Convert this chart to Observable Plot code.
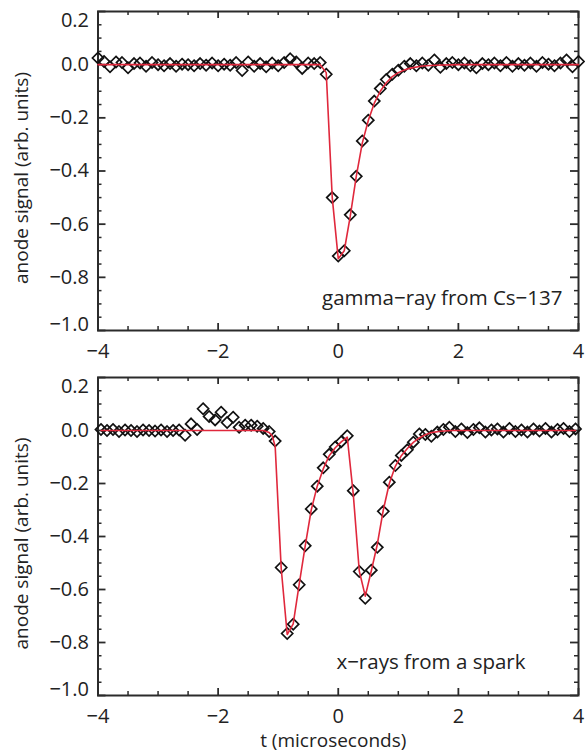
<!DOCTYPE html>
<html><head><meta charset="utf-8">
<script src="https://cdn.jsdelivr.net/npm/d3@7"></script>
<script src="https://cdn.jsdelivr.net/npm/@observablehq/plot@0.6"></script>
<style>
html,body{margin:0;padding:0;background:#fff;}
#wrap{position:relative;width:585px;height:753px;overflow:hidden;font-family:"Open Sans",sans-serif;}
#wrap svg{position:absolute;left:0;}
</style></head><body><div id="wrap"></div>
<script>
// ---------- data ----------
const gammaT = [-4.0,-3.9,-3.8,-3.7,-3.6,-3.5,-3.4,-3.3,-3.2,-3.1,-3.0,-2.9,-2.8,-2.7,-2.6,-2.5,-2.4,-2.3,-2.2,-2.1,
  -2.0,-1.9,-1.8,-1.7,-1.6,-1.5,-1.4,-1.3,-1.2,-1.1,-1.0,-0.9,-0.8,-0.7,-0.6,-0.5,-0.4,-0.3,-0.2,-0.1,
  0.0,0.1,0.2,0.3,0.4,0.5,0.6,0.7,0.8,0.9,1.0,1.1,1.2,1.3,1.4,1.5,1.6,1.7,1.8,1.9,
  2.0,2.1,2.2,2.3,2.4,2.5,2.6,2.7,2.8,2.9,3.0,3.1,3.2,3.3,3.4,3.5,3.6,3.7,3.8,3.9,4.0];
const gammaSignal = [0.025,0.012,-0.008,0.010,0.008,-0.012,0.004,0.006,-0.006,0.008,0.000,-0.004,0.004,-0.006,0.002,0.000,-0.004,0.004,-0.002,0.006,
  -0.004,0.002,-0.002,0.008,-0.022,0.010,-0.006,0.004,-0.008,0.006,-0.004,0.008,0.022,0.010,-0.014,0.006,0.004,0.008,-0.036,-0.500,
  -0.720,-0.700,-0.565,-0.420,-0.287,-0.209,-0.137,-0.090,-0.056,-0.036,-0.021,-0.006,0.004,-0.004,0.006,-0.002,0.018,-0.010,0.004,0.008,
  0.000,0.006,-0.004,-0.012,0.004,0.000,0.006,-0.004,0.008,-0.006,0.004,-0.002,0.006,-0.006,0.008,0.002,-0.004,0.006,0.018,-0.008,0.012];
const gammaFitT = [-4.0,-0.3,-0.2,-0.1,0.0,0.1,0.2,0.3,0.4,0.5,0.6,0.7,0.8,0.9,1.0,1.1,1.2,1.4,1.6,2.0,4.0];
const gammaFitV = [0,0,-0.03,-0.50,-0.73,-0.70,-0.57,-0.42,-0.295,-0.21,-0.145,-0.10,-0.068,-0.045,-0.03,-0.02,-0.013,-0.005,-0.002,0,0];

const sparkT = [-3.95,-3.85,-3.75,-3.65,-3.55,-3.45,-3.35,-3.25,-3.15,-3.05,-2.95,-2.85,-2.75,-2.65,
  -2.55,-2.45,-2.35,-2.25,-2.15,-2.05,-1.95,-1.85,-1.75,-1.65,-1.55,-1.45,-1.35,-1.25,-1.15,-1.05,
  -0.95,-0.85,-0.75,-0.65,-0.55,-0.45,-0.35,-0.25,-0.15,-0.05,0.05,0.15,
  0.25,0.35,0.45,0.55,0.65,0.75,0.85,0.95,1.05,1.15,1.25,1.35,1.45,1.55,
  1.65,1.75,1.85,1.95,2.05,2.15,2.25,2.35,2.45,2.55,2.65,2.75,2.85,2.95,3.05,3.15,3.25,3.35,3.45,3.55,3.65,3.75,3.85,3.95];
const sparkSignal = [0.004,0.000,0.004,-0.004,0.002,0.000,-0.004,0.002,0.000,-0.002,0.002,-0.004,0.000,0.002,
  -0.018,0.025,0.004,0.082,0.053,0.040,0.069,0.030,0.050,0.012,0.020,0.020,0.016,0.008,-0.004,-0.040,
  -0.517,-0.766,-0.731,-0.582,-0.435,-0.296,-0.210,-0.141,-0.090,-0.062,-0.042,-0.020,
  -0.227,-0.532,-0.633,-0.527,-0.441,-0.305,-0.195,-0.132,-0.094,-0.073,-0.044,-0.013,-0.015,-0.022,
  -0.006,0.004,0.012,-0.004,0.006,-0.008,0.004,0.010,-0.006,0.002,0.006,-0.006,0.008,-0.004,0.002,-0.006,0.006,-0.002,0.008,-0.006,0.004,0.008,-0.004,0.006];
const sparkFitT = [-3.95,-1.25,-1.15,-1.10,-1.05,-0.95,-0.85,-0.75,-0.65,-0.55,-0.45,-0.35,-0.25,-0.15,-0.05,0.05,0.15,
  0.25,0.35,0.45,0.55,0.65,0.75,0.85,0.95,1.05,1.15,1.25,1.35,1.45,1.55,1.7,1.9,3.95];
const sparkFitV = [0,0,-0.008,-0.02,-0.06,-0.52,-0.77,-0.73,-0.58,-0.435,-0.30,-0.21,-0.145,-0.095,-0.065,-0.043,-0.025,
  -0.24,-0.53,-0.625,-0.53,-0.43,-0.30,-0.20,-0.135,-0.095,-0.068,-0.045,-0.028,-0.016,-0.008,-0.003,0,0];

const xMajorTicks = [-4,-2,0,2,4];
const xMinorTicks = [-3.5,-3,-2.5,-1.5,-1,-0.5,0.5,1,1.5,2.5,3,3.5];
const yMajorTicks = [0.2,0.0,-0.2,-0.4,-0.6,-0.8,-1.0];
const yMinorTicks = [0.15,0.1,0.05,-0.05,-0.1,-0.15,-0.25,-0.3,-0.35,-0.45,-0.5,-0.55,-0.65,-0.7,-0.75,-0.85,-0.9,-0.95];

const yTitle = "anode signal (arb. units)";
const xTitle = "t (microseconds)";
const gammaLabel = "gamma\u2212ray from Cs\u2212137";
const sparkLabel = "x\u2212rays from a spark";

// ---------- drawing ----------
const W = 585, ML = 97.5, MR = 7;
const AX = "#2b2b2b", RED = "#e0283c", TXT = "#222";
const FS = 20;

function panel({t, v, fitT, fitV, label, labelDx, labelDy, height, marginTop, marginBottom, withXTitle}) {
  const innerH = height - marginTop - marginBottom;
  const innerW = W - ML - MR;
  const pts = t.map((d, i) => ({t: d, v: v[i]}));
  const fit = fitT.map((d, i) => ({t: d, v: fitV[i]}));
  const fmt = d3.format(".1f");
  const yMid = yMajorTicks.slice(1, -1);
  const yTop = [yMajorTicks[0]];
  const yBot = [yMajorTicks[yMajorTicks.length - 1]];
  const marks = [
    Plot.axisX(xMajorTicks, {tickSize: 0, tickPadding: 13, label: null, fontSize: FS, fill: TXT}),
    Plot.axisY(yMid, {tickSize: 0, tickPadding: 9, label: null, tickFormat: fmt, fontSize: FS, fill: TXT}),
    Plot.axisY(yTop, {tickSize: 0, tickPadding: 9, label: null, tickFormat: fmt, fontSize: FS, fill: TXT, dy: 9}),
    Plot.axisY(yBot, {tickSize: 0, tickPadding: 9, label: null, tickFormat: fmt, fontSize: FS, fill: TXT, dy: -6}),
    // inward ticks on all four sides
    Plot.ruleX(xMinorTicks, {x: d => d, insetTop: innerH - 4, stroke: AX, strokeWidth: 1.5}),
    Plot.ruleX(xMinorTicks, {x: d => d, insetBottom: innerH - 4, stroke: AX, strokeWidth: 1.5}),
    Plot.ruleX(xMajorTicks, {x: d => d, insetTop: innerH - 7, stroke: AX, strokeWidth: 1.8}),
    Plot.ruleX(xMajorTicks, {x: d => d, insetBottom: innerH - 7, stroke: AX, strokeWidth: 1.8}),
    Plot.ruleY(yMinorTicks, {y: d => d, insetRight: innerW - 4, stroke: AX, strokeWidth: 1.5}),
    Plot.ruleY(yMinorTicks, {y: d => d, insetLeft: innerW - 4, stroke: AX, strokeWidth: 1.5}),
    Plot.ruleY(yMajorTicks, {y: d => d, insetRight: innerW - 8, stroke: AX, strokeWidth: 1.8}),
    Plot.ruleY(yMajorTicks, {y: d => d, insetLeft: innerW - 8, stroke: AX, strokeWidth: 1.8}),
    Plot.frame({stroke: AX, strokeWidth: 2}),
    Plot.dot(pts, {x: "t", y: "v", symbol: "diamond2", r: 5, stroke: "#111", strokeWidth: 1.7, fill: "none"}),
    Plot.line(fit, {x: "t", y: "v", stroke: RED, strokeWidth: 1.6}),
    Plot.text([label], {text: d => d, frameAnchor: "bottom-right", textAnchor: "end", lineAnchor: "bottom",
      dx: labelDx, dy: labelDy, fontSize: 20.5, fill: TXT}),
    Plot.text([yTitle], {text: d => d, frameAnchor: "left", rotate: -90, textAnchor: "middle", lineAnchor: "middle",
      dx: 21 - ML, dy: 7, fontSize: 19, fill: TXT})
  ];
  if (withXTitle) {
    marks.push(Plot.text([xTitle], {text: d => d, frameAnchor: "bottom", textAnchor: "middle", lineAnchor: "middle",
      dx: -5, dy: 45.5, fontSize: 19, fill: TXT}));
  }
  return Plot.plot({
    width: W, height, marginLeft: ML, marginRight: MR, marginTop, marginBottom,
    style: {fontFamily: "'Open Sans', sans-serif", fontSize: "20px", color: TXT, background: "transparent", overflow: "visible"},
    x: {domain: [-4, 4]},
    y: {domain: [-1, 0.2]},
    marks
  });
}

const wrap = document.getElementById("wrap");
const top1 = panel({t: gammaT, v: gammaSignal, fitT: gammaFitT, fitV: gammaFitV, label: gammaLabel,
  labelDx: -16, labelDy: -26, height: 375, marginTop: 11, marginBottom: 45, withXTitle: false});
top1.style.top = "0px";
wrap.appendChild(top1);
const bot = panel({t: sparkT, v: sparkSignal, fitT: sparkFitT, fitV: sparkFitV, label: sparkLabel,
  labelDx: -53, labelDy: -27, height: 387, marginTop: 11, marginBottom: 58, withXTitle: true});
bot.style.top = "366px";
wrap.appendChild(bot);
</script>
</body></html>
